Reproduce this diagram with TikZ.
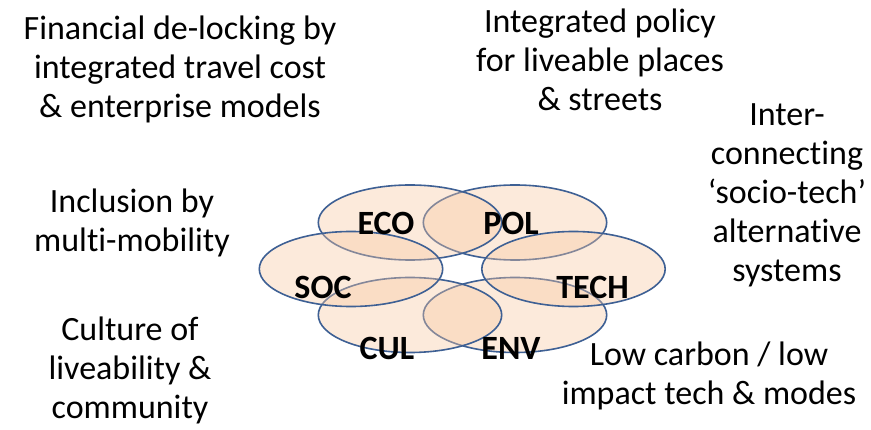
\documentclass[tikz,border=0pt]{standalone}
\usepackage{fontspec}
\setmainfont[Ligatures={NoCommon}]{Carlito}
\definecolor{ringblue}{RGB}{62,96,148}
\definecolor{peach}{RGB}{248,200,162}
\tikzset{
  ring/.style={draw=ringblue, line width=1.6pt, fill=peach, fill opacity=0.38, draw opacity=1},
  core/.style={font=\fontsize{34}{38}\selectfont\bfseries, inner sep=0pt, anchor=center},
  theme/.style={font=\fontsize{34}{39}\selectfont, align=center, inner sep=0pt, anchor=center}
}
\begin{document}
\begin{tikzpicture}[x=1pt,y=1pt]
\fill[white] (0,0) rectangle (871,429);
\useasboundingbox (0,0) rectangle (871,429);
% rings, back to front
\path[ring] (515,206.5) ellipse [x radius=91.7, y radius=37.5];
\path[ring] (515,114) ellipse [x radius=91.7, y radius=37.5];
\path[ring] (573.5,160) ellipse [x radius=91.7, y radius=37.5];
\path[ring] (410,114) ellipse [x radius=91.7, y radius=37.5];
\path[ring] (410,206.5) ellipse [x radius=91.7, y radius=37.5];
\path[ring] (351,160) ellipse [x radius=91.7, y radius=37.5];
% core labels
\node[core] (eco) at (386,206) {ECO};
\node[core] (pol) at (511,206) {POL};
\node[core] (soc) at (323,141.5) {SOC};
\node[core] (tech) at (592.5,141.5) {TECH};
\node[core] (cul) at (387,81) {CUL};
\node[core] (env) at (511,81) {ENV};
% themes
\node[theme] (fin) at (180,359.5) {Financial de-locking by\\integrated travel cost\\\& enterprise models};
\node[theme] (policy) at (600,369) {Integrated policy\\for liveable places\\\& streets};
\node[theme] (inter) at (787,234) {Inter-\\connecting\\‘socio-tech’\\alternative\\systems};
\node[theme] (incl) at (132,206) {Inclusion by\\multi-mobility};
\node[theme] (cult) at (130,59) {Culture of\\liveability \&\\community};
\node[theme] (low) at (709,53) {Low carbon / low\\impact tech \& modes};
\end{tikzpicture}
\end{document}
